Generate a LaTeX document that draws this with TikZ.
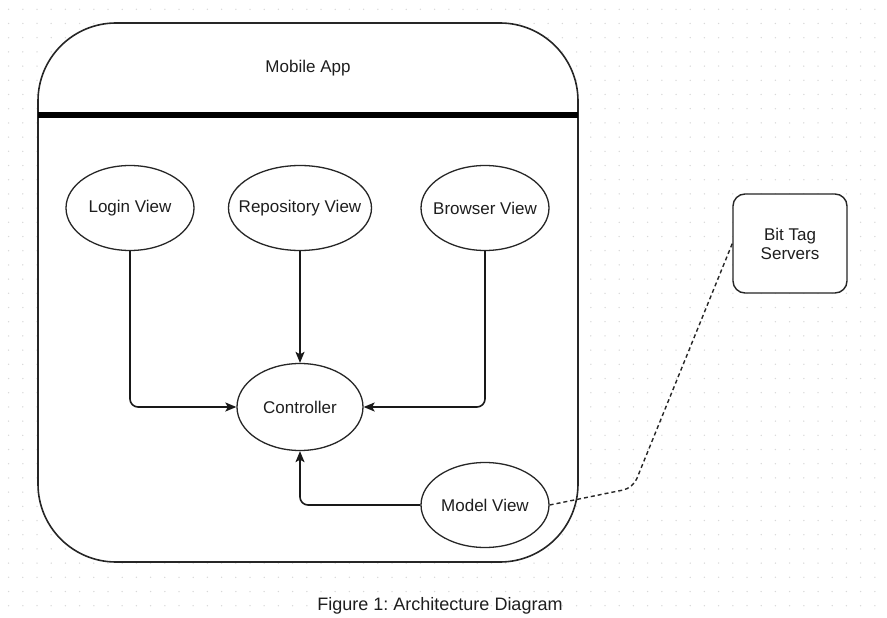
\documentclass[tikz,border=0pt]{standalone}
\usepackage{fontspec}
\setmainfont{Liberation Sans}
\usetikzlibrary{arrows.meta,shapes.geometric}
\definecolor{txt}{HTML}{1E1E1E}
\definecolor{griddot}{HTML}{D8D8D8}
\frenchspacing
\begin{document}
\begin{tikzpicture}[x=1pt,y=-1pt,
  view/.style={draw=black!85, line width=1.3pt, fill=white, ellipse, minimum width=128pt, minimum height=85pt, inner sep=0pt, text=txt, font=\fontsize{17}{20}\selectfont},
  conn/.style={draw=black!90, line width=1.6pt, rounded corners=8pt, -{Stealth[length=11pt,width=9pt,inset=2.5pt]}},
  dashconn/.style={draw=black!85, line width=1.4pt, dashed, dash pattern=on 4pt off 3pt, rounded corners=10pt}
]
\useasboundingbox (0,0) rectangle (887,618);
\fill[white] (0,0) rectangle (887,618);
% dotted grid
\foreach \i in {0,...,62} {
  \foreach \j in {0,...,43} {
    \fill[griddot] ({8.6+14.2*\i},{9.3+14.2*\j}) circle (0.75pt);
  }
}
% container
\draw[draw=black!85, line width=1.6pt, fill=white, rounded corners=78pt] (38,23) rectangle (578,562);
\coordinate (divL) at (38,115);
\coordinate (divR) at (578,115);
\draw[line width=5pt, black] (divL) -- (divR);
\node[text=txt, font=\fontsize{17}{20}\selectfont] (title) at (308,68) {Mobile App};
% views
\node[view] (login) at (130,208) {\makebox[0pt]{Login View}};
\node[view, minimum width=143pt] (repo) at (300,208) {\makebox[0pt]{Repository View}};
\node[view] (browser) at (485,208) {\makebox[0pt]{Browser View}};
\node[view, minimum width=126pt, minimum height=87pt] (ctrl) at (300,407) {\makebox[0pt]{Controller}};
\node[view] (model) at (485,505) {\makebox[0pt]{Model View}};
% server
\node[draw=black!85, line width=1.4pt, fill=white, rounded corners=12pt, minimum width=114pt, minimum height=99pt, align=center, text=txt, font=\fontsize{17}{19}\selectfont] (server) at (790,243.5) {Bit Tag\\Servers};
% connectors
\draw[conn] (login.south) |- (ctrl.west);
\draw[conn] (repo.south) -- (ctrl.north);
\draw[conn] (browser.south) |- (ctrl.east);
\draw[conn] (model.west) -| (ctrl.south);
\coordinate (bend) at (633,488);
\draw[dashconn] (model.east) -- (bend) -- (server.west);
% caption
\node[text=txt, font=\fontsize{18}{21}\selectfont] (caption) at (440,606) {Figure 1: Architecture Diagram};
\end{tikzpicture}
\end{document}
